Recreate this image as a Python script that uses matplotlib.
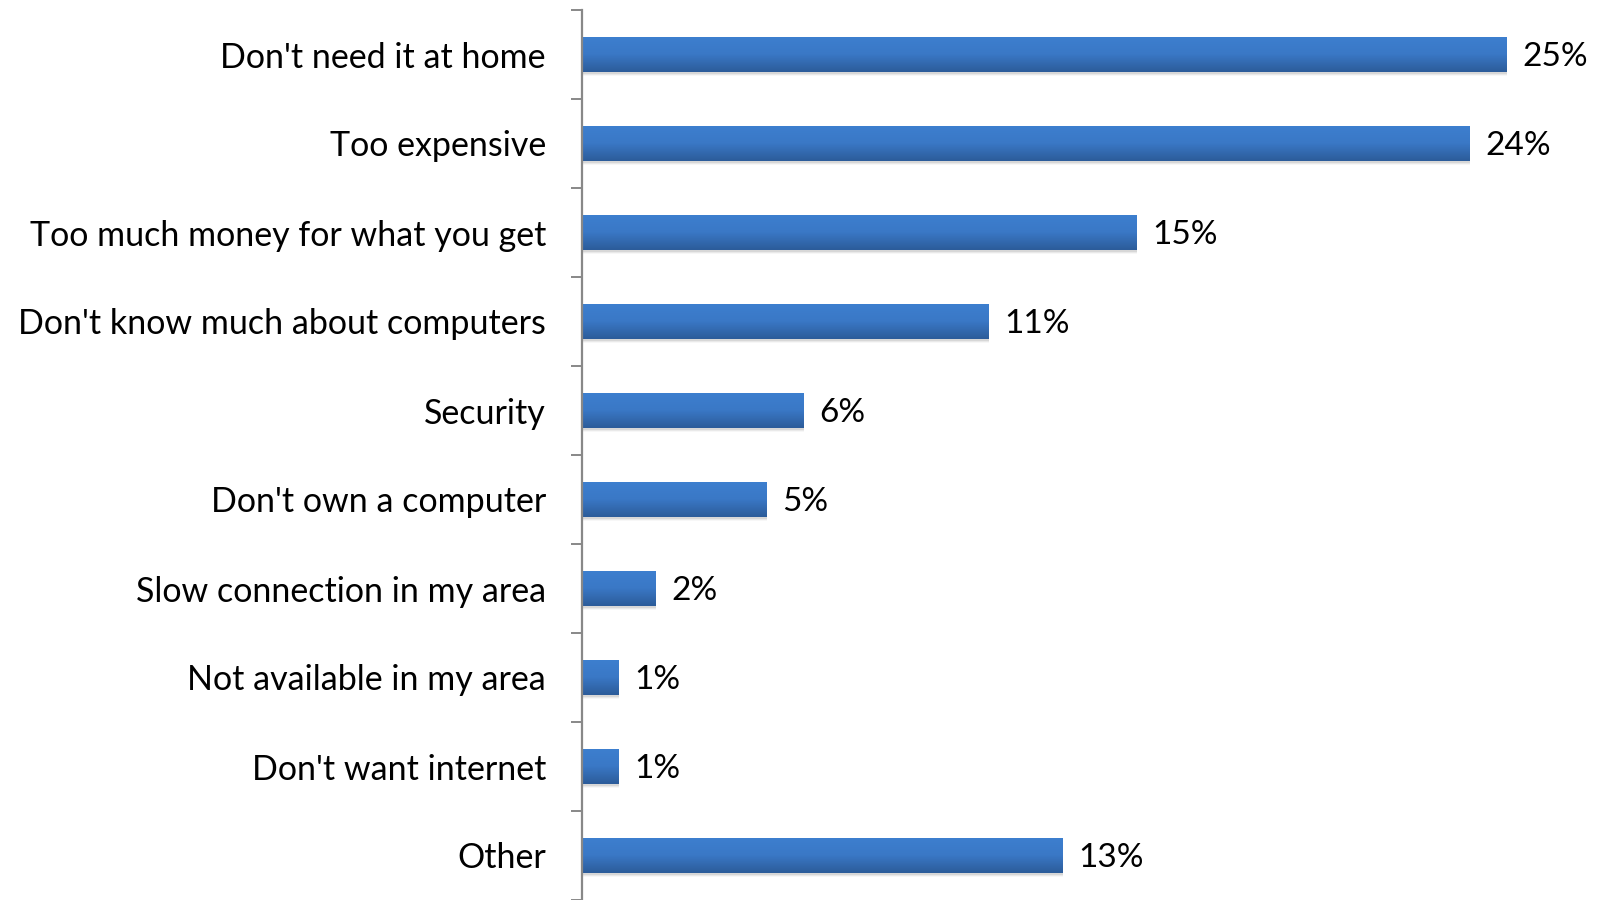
import numpy as np
import matplotlib.pyplot as plt
from matplotlib.colors import LinearSegmentedColormap

categories = ["Don't need it at home", "Too expensive", "Too much money for what you get",
              "Don't know much about computers", "Security", "Don't own a computer",
              "Slow connection in my area", "Not available in my area",
              "Don't want internet", "Other"]
values = [25, 24, 15, 11, 6, 5, 2, 1, 1, 13]

plt.rcParams['font.family'] = ['Lato', 'DejaVu Sans']

fig = plt.figure(figsize=(16, 9), dpi=100)
ax = fig.add_axes([582 / 1600, 0, 1000 / 1600, 890 / 900])

n = len(categories)
ypos = np.arange(n)[::-1]
h = 0.40

# soft drop shadow under each bar
for k, a in enumerate([0.25, 0.15, 0.08]):
    off = 0.015 * (k + 1)
    ax.barh(ypos - off, values, height=h, left=0.0, color='#a0a0a0', alpha=a,
            linewidth=0, zorder=1)
bars = ax.barh(ypos, values, height=h, color='none', linewidth=0, zorder=2)

grad = LinearSegmentedColormap.from_list('g', ['#2c5c9a', '#3a78c6', '#3d7fcf'])
img = np.linspace(0, 1, 64).reshape(-1, 1)
for b in bars:
    x0, y0 = b.get_x(), b.get_y()
    im = ax.imshow(img, cmap=grad, aspect='auto', origin='lower',
                   extent=[x0, x0 + b.get_width(), y0, y0 + b.get_height()], zorder=2)
    im.set_clip_path(b)

for y, v in zip(ypos, values):
    ax.text(v + 0.42, y - 0.03, f"{v}%", va='center', ha='left', fontsize=24)

ax.set_xlim(0, 1000 / 37)
ax.set_ylim(-0.5, n - 0.5)
ax.set_yticks(ypos)
ax.set_yticklabels(categories, fontsize=24.5)
ax.set_yticks(np.arange(n + 1) - 0.5, minor=True)
ax.tick_params(axis='y', which='major', length=0, pad=26)
ax.tick_params(axis='y', which='minor', length=8, width=1.4, color='#888888')
ax.set_xticks([])
for s in ['top', 'right', 'bottom']:
    ax.spines[s].set_visible(False)
ax.spines['left'].set_color('#888888')
ax.spines['left'].set_linewidth(1.6)

fig.savefig('out.png', dpi=100)
